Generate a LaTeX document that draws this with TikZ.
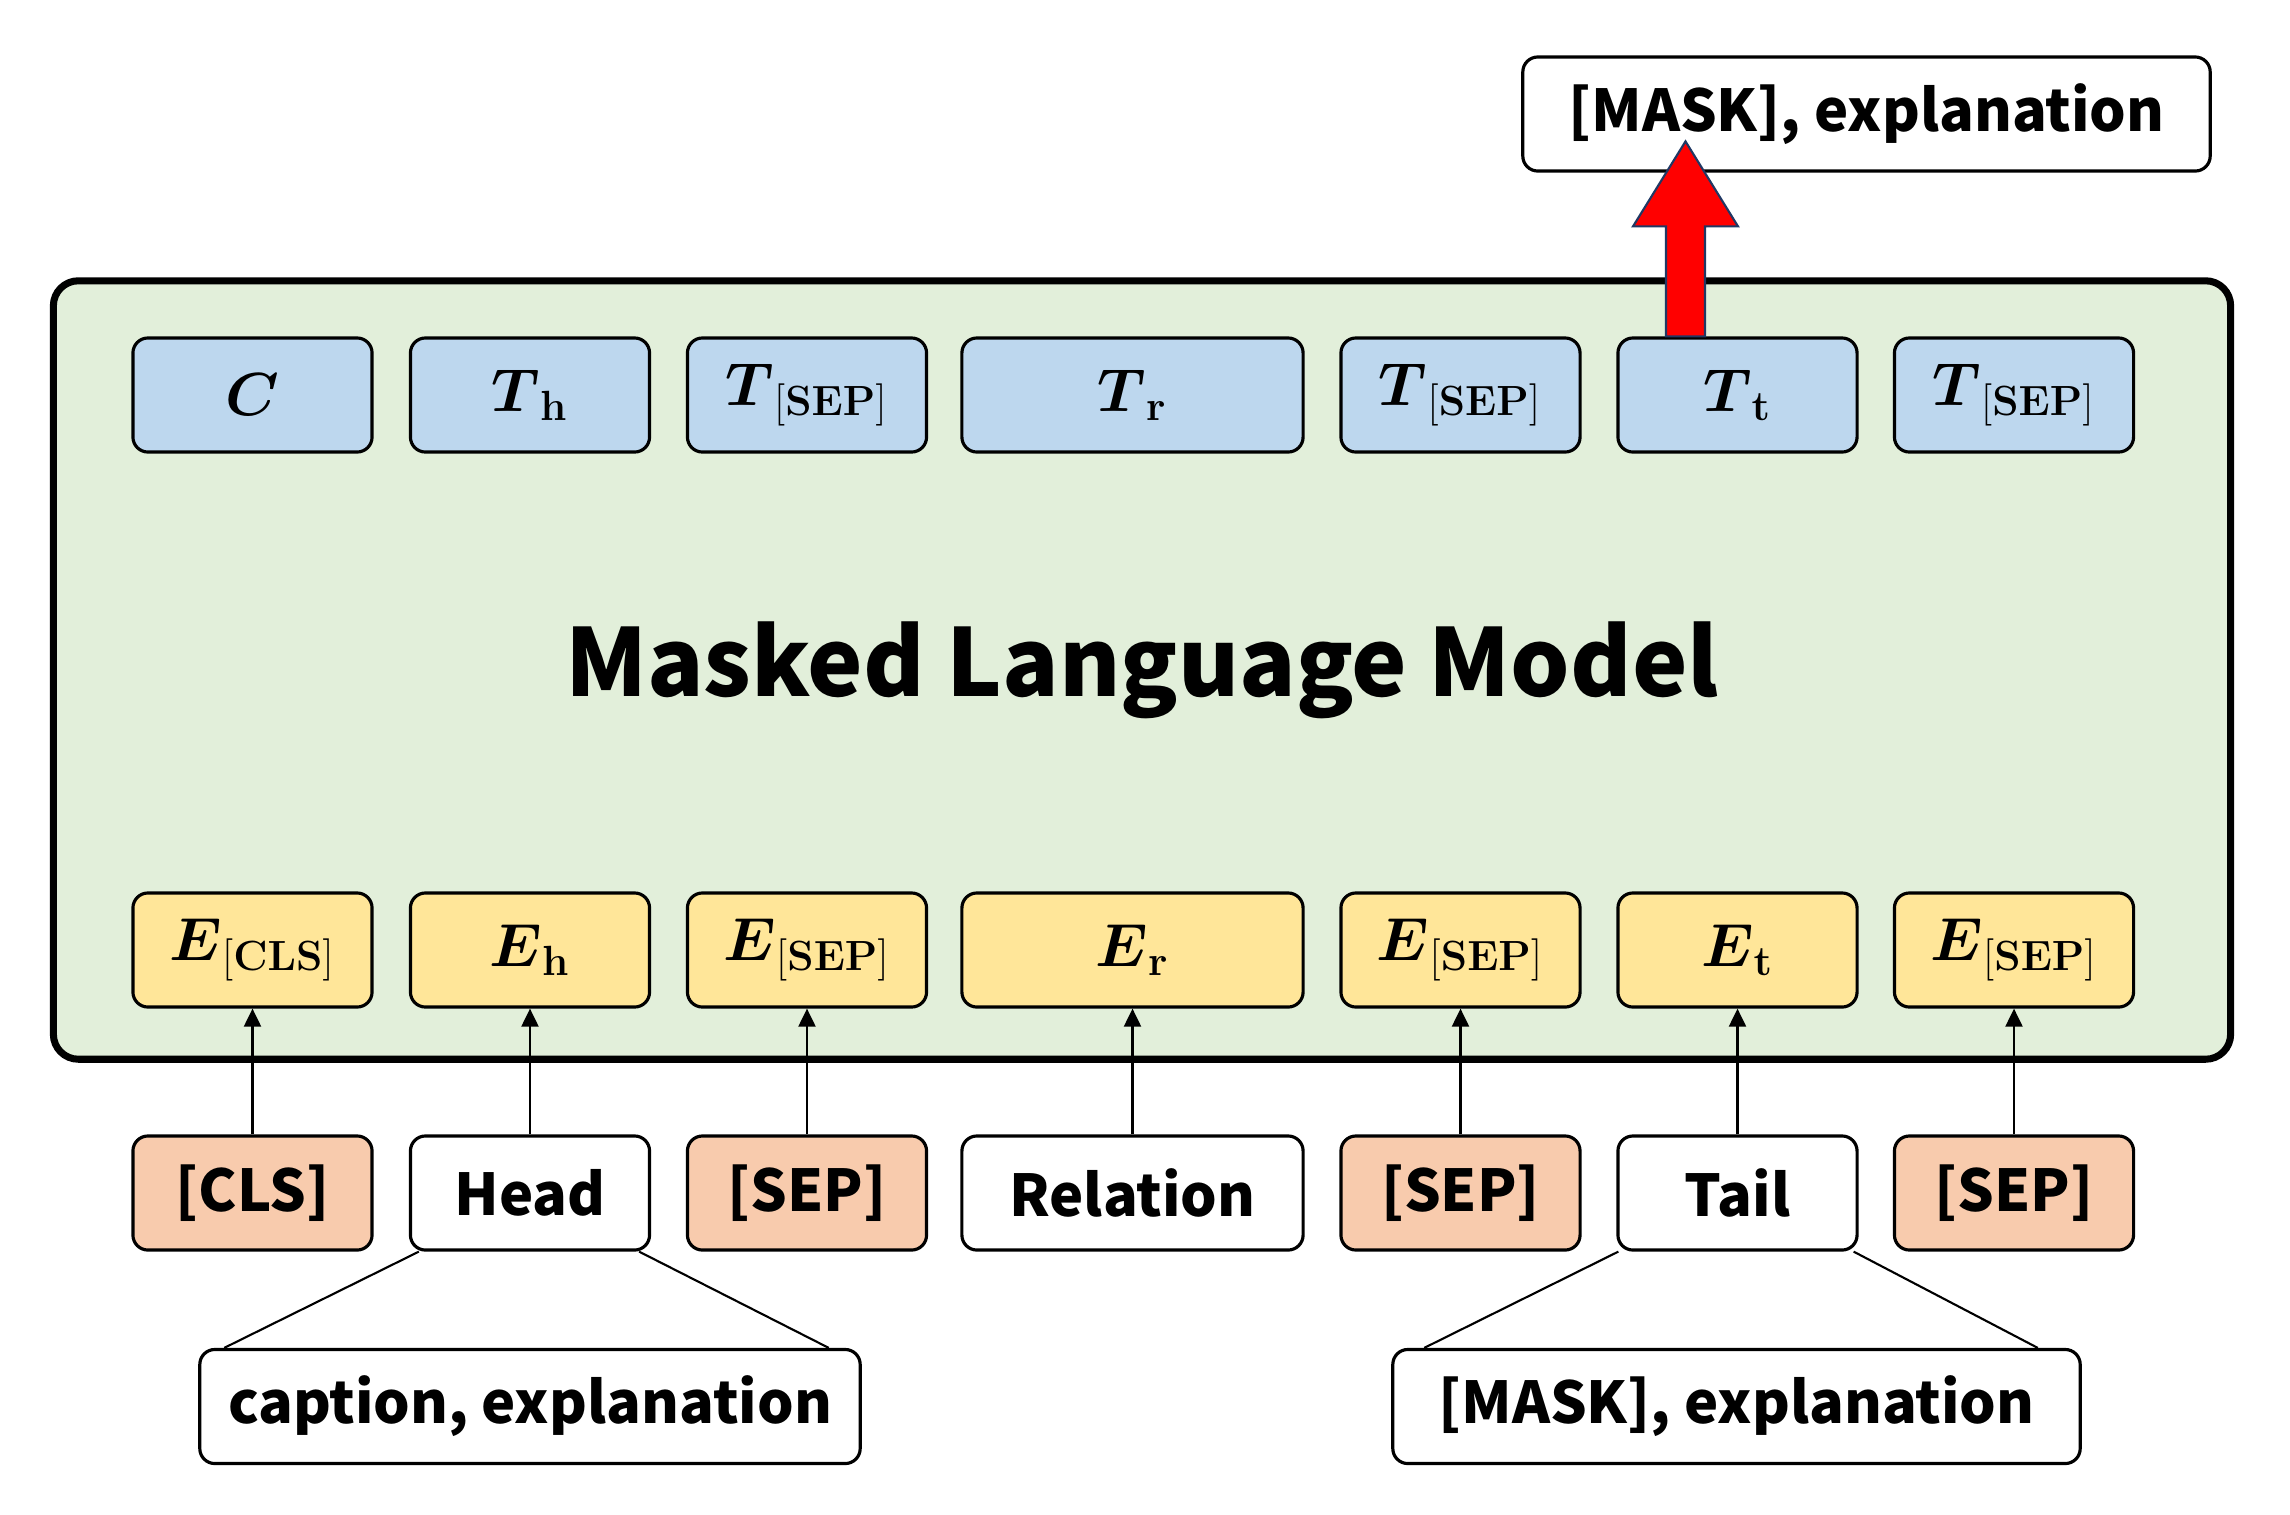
\documentclass[tikz,border=0pt]{standalone}
\usepackage[no-math]{fontspec}
\setmainfont{Noto Sans CJK JP}
\usepackage{amsmath,amssymb}
\usepackage{tikz}
\usetikzlibrary{calc,arrows.meta,positioning}

\definecolor{mlmgreen}{HTML}{E2EFDA}
\definecolor{outblue}{HTML}{BDD7EE}
\definecolor{embyellow}{HTML}{FFE699}
\definecolor{sporange}{HTML}{F8CBAD}
\definecolor{arrownavy}{HTML}{203864}

\tikzset{
  tok/.style={draw, line width=0.9pt, rounded corners=1.5mm,
    minimum width=2.39cm, minimum height=1.14cm, inner sep=0pt,
    font=\fontsize{16.4}{20}\selectfont\bfseries},
  outtok/.style={tok, fill=outblue, font=\fontsize{17.8}{20}\selectfont},
  embtok/.style={tok, fill=embyellow, font=\fontsize{17.8}{20}\selectfont},
  sptok/.style={tok, fill=sporange},
  wordtok/.style={tok, fill=white},
  widetok/.style={minimum width=3.41cm},
  expbox/.style={tok, fill=white, minimum width=6.87cm},
  up/.style={-{Triangle[length=1.8mm,width=1.7mm]}, line width=0.6pt},
  branch/.style={line width=0.6pt}
}

\begin{document}
\begin{tikzpicture}[x=0.01cm,y=-0.01cm]
\useasboundingbox (0,0) rectangle (2290,1514);

% the model
\node[draw, line width=2pt, rounded corners=2.5mm, fill=mlmgreen,
      minimum width=21.76cm, minimum height=7.78cm, inner sep=0pt,
      font=\fontsize{26.6}{30}\selectfont\bfseries] (mlm) at (1142,670) {Masked Language Model};

% output row
\node[outtok] (tc)    at (252.5,395)  {$\boldsymbol{C}$};
\node[outtok] (th)    at (530,395)    {$\boldsymbol{T}_{\mathbf{h}}$};
\node[outtok] (tsepa) at (807,395)    {$\boldsymbol{T}_{\mathbf{[SEP]}}$};
\node[outtok,widetok] (tr) at (1132.5,395) {$\boldsymbol{T}_{\mathbf{r}}$};
\node[outtok] (tsepb) at (1460.5,395) {$\boldsymbol{T}_{\mathbf{[SEP]}}$};
\node[outtok] (tt)    at (1737.5,395) {$\boldsymbol{T}_{\mathbf{t}}$};
\node[outtok] (tsepc) at (2014,395)   {$\boldsymbol{T}_{\mathbf{[SEP]}}$};

% embedding row
\node[embtok] (ecls)  at (252.5,950)  {$\boldsymbol{E}_{\mathbf{[CLS]}}$};
\node[embtok] (eh)    at (530,950)    {$\boldsymbol{E}_{\mathbf{h}}$};
\node[embtok] (esepa) at (807,950)    {$\boldsymbol{E}_{\mathbf{[SEP]}}$};
\node[embtok,widetok] (er) at (1132.5,950) {$\boldsymbol{E}_{\mathbf{r}}$};
\node[embtok] (esepb) at (1460.5,950) {$\boldsymbol{E}_{\mathbf{[SEP]}}$};
\node[embtok] (et)    at (1737.5,950) {$\boldsymbol{E}_{\mathbf{t}}$};
\node[embtok] (esepc) at (2014,950)   {$\boldsymbol{E}_{\mathbf{[SEP]}}$};

% input row
\node[sptok]   (cls)  at (252.5,1193)  {[CLS]};
\node[wordtok] (head) at (530,1193)    {Head};
\node[sptok]   (sepa) at (807,1193)    {[SEP]};
\node[wordtok,widetok] (rel) at (1132.5,1193) {Relation};
\node[sptok]   (sepb) at (1460.5,1193) {[SEP]};
\node[wordtok] (tail) at (1737.5,1193) {Tail};
\node[sptok]   (sepc) at (2014,1193)   {[SEP]};

\foreach \a/\b in {cls/ecls,head/eh,sepa/esepa,rel/er,sepb/esepb,tail/et,sepc/esepc}
    \draw[up] (\a.north) -- (\b.south);

% what head and tail hold
\node[expbox, minimum width=6.6cm] (capexp) at (530,1406.5)  {caption, explanation};
\node[expbox] (maskexp) at (1736.5,1406.5) {[MASK], explanation};

\draw[branch] ($(head.south west)+(10,0)$) -- ($(capexp.north west)+(26,0)$);
\draw[branch] ($(head.south east)+(-12,0)$) -- ($(capexp.north east)+(-33,0)$);
\draw[branch] ($(tail.south west)+(2,0)$) -- ($(maskexp.north west)+(33,0)$);
\draw[branch] ($(tail.south east)+(-5,0)$) -- ($(maskexp.north east)+(-44,0)$);

% prediction
\node[expbox] (pred) at (1866.5,114) {[MASK], explanation};

\coordinate (redbase) at ($(tt.north)+(-52,0)$);
\filldraw[fill=red, draw=arrownavy, line width=0.6pt]
      (redbase) ++(-19.5,0) -- ++(0,-110) -- ++(-33,0) --
      ++(52.5,-85) -- ++(52.5,85) -- ++(-33,0) -- ++(0,110) -- cycle;
\end{tikzpicture}
\end{document}
